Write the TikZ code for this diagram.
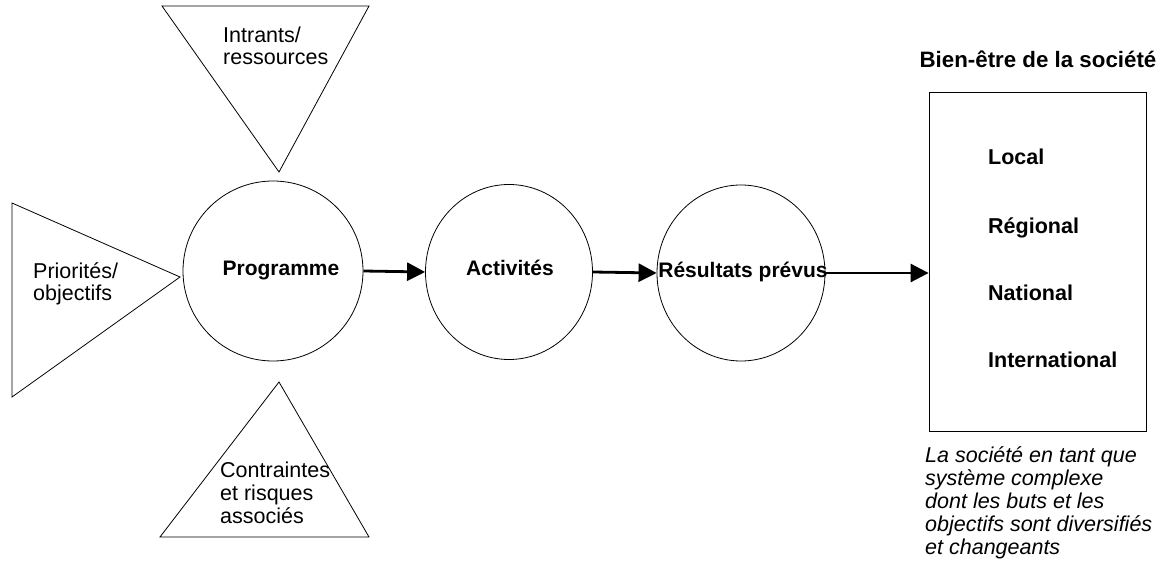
\documentclass[tikz,border=0pt]{standalone}
\usepackage{fontspec}
\setmainfont{Liberation Sans}
\usetikzlibrary{shapes.geometric,arrows.meta}
\tikzset{
  shp/.style={draw=black, line width=0.8pt},
  circ/.style={shp, ellipse, inner sep=0pt},
  txt/.style={inner sep=0pt, anchor=base west, font=\fontsize{21.5}{22}\selectfont},
  btxt/.style={inner sep=0pt, anchor=base, font=\fontsize{21}{22}\selectfont\bfseries},
  lvl/.style={inner sep=0pt, anchor=base west, font=\fontsize{21.5}{22}\selectfont\bfseries},
  itxt/.style={inner sep=0pt, anchor=base west, font=\fontsize{21.5}{22}\selectfont\itshape},
  flow/.style={line width=2.8pt, -{Triangle[length=18pt,width=18pt]}}
}
\begin{document}
\begin{tikzpicture}[x=1pt,y=-1pt]
\useasboundingbox (0,0) rectangle (1168,577);
% triangles
\draw[shp] (12,203) -- (12,397) -- (180,277) -- cycle;
\draw[shp] (162,6) -- (369,6) -- (279,172) -- cycle;
\draw[shp] (160,537) -- (369,537) -- (279,382) -- cycle;
\node[txt] (prio1) at (33,279) {Priorités/};
\node[txt] (prio2) at (33,301) {objectifs};
\node[txt] (intr1) at (223,43) {Intrants/};
\node[txt] (intr2) at (223,65) {ressources};
\node[txt] (cont1) at (220,477) {Contraintes};
\node[txt] (cont2) at (220,500) {et risques};
\node[txt] (cont3) at (220,523) {associés};
% circles
\node[circ, minimum width=180pt, minimum height=180pt] (prog) at (273,271) {};
\node[circ, minimum width=167pt, minimum height=175pt] (act) at (509,272) {};
\node[circ, minimum width=168pt, minimum height=176pt] (res) at (741,273) {};
\node[btxt] (progt) at (281,276) {Programme};
\node[btxt] (actt) at (510,276) {Activités};
\node[btxt] (rest) at (743,278) {Résultats prévus};
% box
\node[shp, minimum width=217pt, minimum height=339pt, inner sep=0pt] (box) at (1037.5,261.5) {};
\node[btxt, font=\fontsize{22.3}{23}\selectfont\bfseries] (title) at (1038,68) {Bien-être de la société};
\node[lvl] (loc) at (988,165) {Local};
\node[lvl] (reg) at (988,234) {Régional};
\node[lvl] (nat) at (988,301) {National};
\node[lvl] (int) at (988,368) {International};
\node[itxt] (n1) at (925,462) {La société en tant que};
\node[itxt] (n2) at (925,485) {système complexe};
\node[itxt] (n3) at (925,508) {dont les buts et les};
\node[itxt] (n4) at (925,531) {objectifs sont diversifiés};
\node[itxt] (n5) at (925,554) {et changeants};
% arrows
\draw[flow] (prog.east) -- (act.west);
\draw[flow] (act.east) -- (res.west);
\draw[flow] (res.east) -- (box.west |- res.east);
\end{tikzpicture}
\end{document}
